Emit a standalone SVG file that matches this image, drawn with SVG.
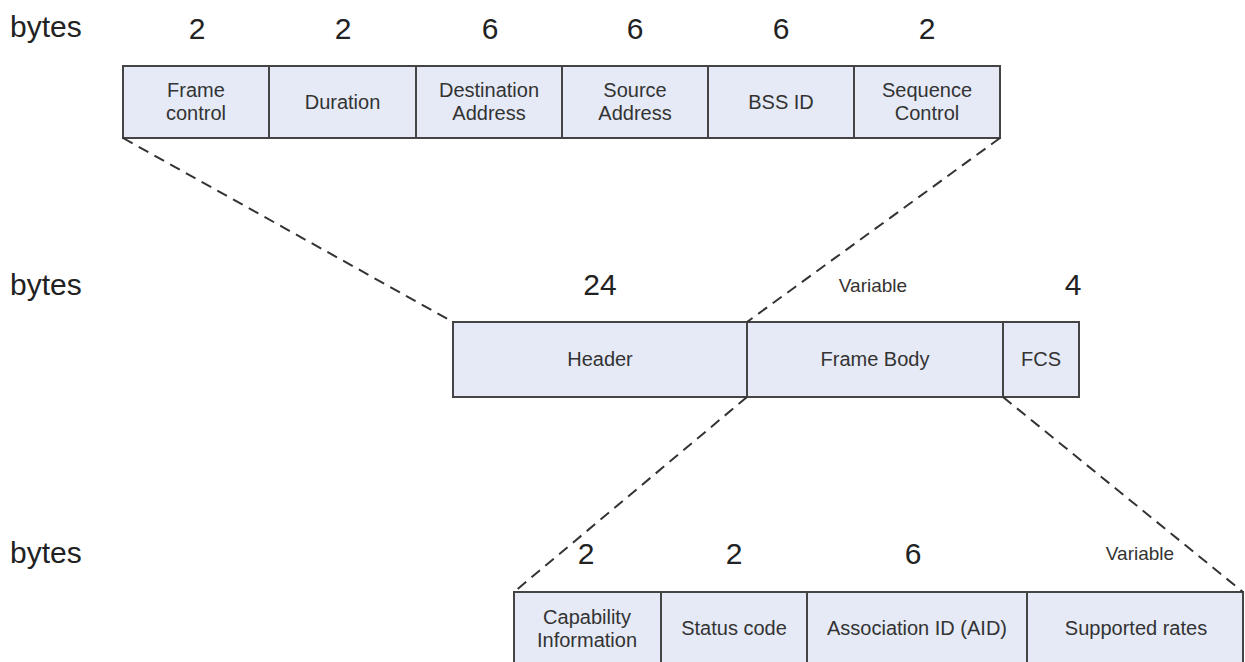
<svg xmlns="http://www.w3.org/2000/svg" width="1245" height="662" viewBox="0 0 1245 662">
<style>
.bx{fill:#e5eaf6;stroke:#444;stroke-width:2}
.big{font-family:"Liberation Sans",Arial,sans-serif;font-size:30px;fill:#222}
.num{font-family:"Liberation Sans",Arial,sans-serif;font-size:30px;fill:#222;text-anchor:middle}
.lb{font-family:"Liberation Sans",Arial,sans-serif;font-size:20px;fill:#333;text-anchor:middle}
.var{font-family:"Liberation Sans",Arial,sans-serif;font-size:19px;fill:#333;text-anchor:middle}
.dash{stroke:#333;stroke-width:2;stroke-dasharray:11 7;fill:none}
</style>
<rect width="1245" height="662" fill="#fff"/>
<g id="labels">
<text class="big" x="10" y="37">bytes</text>
<text class="big" x="10" y="295">bytes</text>
<text class="big" x="10" y="563">bytes</text>
</g>
<g id="top-row">
<text class="num" x="197" y="39">2</text>
<text class="num" x="343" y="39">2</text>
<text class="num" x="490" y="39">6</text>
<text class="num" x="635" y="39">6</text>
<text class="num" x="781" y="39">6</text>
<text class="num" x="927" y="39">2</text>
<g id="frame-control"><rect class="bx" x="123" y="66" width="146" height="72"/><text class="lb" x="196" y="97">Frame</text><text class="lb" x="196" y="120">control</text></g>
<g id="duration"><rect class="bx" x="269" y="66" width="147" height="72"/><text class="lb" x="342.5" y="109">Duration</text></g>
<g id="destination"><rect class="bx" x="416" y="66" width="146" height="72"/><text class="lb" x="489" y="97">Destination</text><text class="lb" x="489" y="120">Address</text></g>
<g id="source"><rect class="bx" x="562" y="66" width="146" height="72"/><text class="lb" x="635" y="97">Source</text><text class="lb" x="635" y="120">Address</text></g>
<g id="bssid"><rect class="bx" x="708" y="66" width="146" height="72"/><text class="lb" x="781" y="109">BSS ID</text></g>
<g id="seqctl"><rect class="bx" x="854" y="66" width="146" height="72"/><text class="lb" x="927" y="97">Sequence</text><text class="lb" x="927" y="120">Control</text></g>
</g>
<g id="mid-row">
<text class="num" x="600" y="295">24</text>
<text class="var" x="873" y="292">Variable</text>
<text class="num" x="1073" y="295">4</text>
<g id="header"><rect class="bx" x="453" y="322" width="294" height="75"/><text class="lb" x="600" y="366">Header</text></g>
<g id="body"><rect class="bx" x="747" y="322" width="256" height="75"/><text class="lb" x="875" y="366">Frame Body</text></g>
<g id="fcs"><rect class="bx" x="1003" y="322" width="76" height="75"/><text class="lb" x="1041" y="366">FCS</text></g>
</g>
<g id="bottom-row">
<text class="num" x="586" y="564">2</text>
<text class="num" x="734" y="564">2</text>
<text class="num" x="913" y="564">6</text>
<text class="var" x="1140" y="560">Variable</text>
<g id="capability"><rect class="bx" x="514" y="592" width="147" height="74"/><text class="lb" x="587" y="624">Capability</text><text class="lb" x="587" y="647">Information</text></g>
<g id="status"><rect class="bx" x="661" y="592" width="146" height="74"/><text class="lb" x="734" y="635">Status code</text></g>
<g id="aid"><rect class="bx" x="807" y="592" width="220" height="74"/><text class="lb" x="917" y="635">Association ID (AID)</text></g>
<g id="rates"><rect class="bx" x="1027" y="592" width="216" height="74"/><text class="lb" x="1136" y="635">Supported rates</text></g>
</g>
<g id="connectors">
<line class="dash" x1="123" y1="138" x2="453" y2="322"/>
<line class="dash" x1="1000" y1="138" x2="747" y2="322"/>
<line class="dash" x1="747" y1="397" x2="514" y2="592"/>
<line class="dash" x1="1003" y1="397" x2="1243" y2="592"/>
</g>
</svg>
